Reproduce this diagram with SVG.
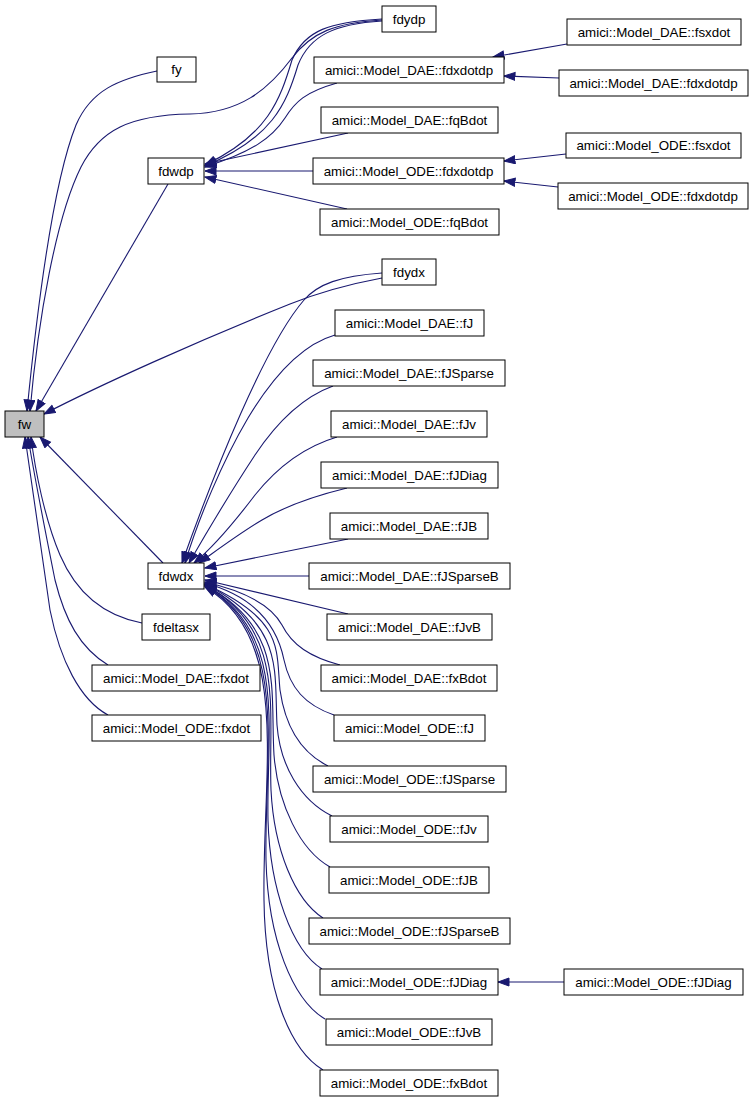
<svg xmlns="http://www.w3.org/2000/svg" width="755" height="1102" viewBox="0 0 755 1102">
<style>
.n rect{fill:#fff;stroke:#000;stroke-width:1}
.n text{font-family:"Liberation Sans",Arial,sans-serif;font-size:13.33px;text-anchor:middle;fill:#000}
#fw rect{fill:#bfbfbf}
.e path{fill:none;stroke:#191970;stroke-width:1.1;marker-end:url(#ah)}
</style>
<defs>
<marker id="ah" markerUnits="userSpaceOnUse" markerWidth="13" markerHeight="10" refX="11.5" refY="4.5" orient="auto">
<path d="M0.5,0.5 L11.5,4.5 L0.5,8.5 z" fill="#191970" stroke="#191970" stroke-width="1"/>
</marker>
</defs>
<rect width="755" height="1102" fill="#fff"/>
<g id="edges" class="e">
<path d="M157,71 C119,79 91,90 76,125 C52,185 36,320 27,411"/>
<path d="M382,20 C335,23 312,32 292,58 C268,90 240,113 190,114 C130,115 100,130 81,167 C56,217 38,320 30,411"/>
<path d="M168,184 L36,411"/>
<path d="M382,278 C350,284 320,292 290,304 C200,340 100,385 44,414"/>
<path d="M163,563 L40,437"/>
<path d="M142,623 C100,615 75,590 60,555 C45,520 35,470 31,437"/>
<path d="M108,665 C80,648 65,620 55,580 C45,530 35,480 28,437"/>
<path d="M108,715 C80,700 60,660 50,610 C40,540 31,480 25,437"/>
<path d="M382,19 C330,22 305,30 292,60 C280,100 268,135 205,165"/>
<path d="M382,21 C335,24 310,35 298,65 C286,105 272,138 205,166"/>
<path d="M337,83 C305,92 295,102 285,118 C272,138 252,152 205,167"/>
<path d="M348,133 L205,164"/>
<path d="M313,171 L205,171"/>
<path d="M347,209 L205,177"/>
<path d="M567,44 L493,57"/>
<path d="M559,78 L504,76"/>
<path d="M566,154 L504,161"/>
<path d="M558,187 L504,181"/>
<path d="M382,273 C340,276 318,284 304,300 C265,345 215,470 182,563"/>
<path d="M335,335 C300,345 272,378 248,418 C222,462 198,520 185,563"/>
<path d="M333,386 C300,398 275,425 255,455 C232,490 208,530 189,563"/>
<path d="M337,437 C300,448 275,470 255,495 C236,520 216,545 194,563"/>
<path d="M347,488 C310,497 282,508 262,520 C240,533 220,548 199,563"/>
<path d="M348,539 L205,568"/>
<path d="M309,576 L205,576"/>
<path d="M348,614 L205,580"/>
<path d="M340,665 C310,657 292,645 282,625 C270,603 240,590 205,582"/>
<path d="M334,715 C305,705 290,688 284,660 C278,630 260,598 205,583"/>
<path d="M328,766 C300,752 285,725 280,690 C276,650 285,620 205,584"/>
<path d="M332,816 C300,800 280,765 277,725 C274,670 285,625 205,584"/>
<path d="M330,867 C300,850 278,805 274,755 C270,690 285,628 205,585"/>
<path d="M323,918 C295,900 274,850 271,790 C268,710 287,630 205,585"/>
<path d="M322,969 C292,950 270,890 268,820 C266,730 288,632 205,586"/>
<path d="M325,1019 C293,1000 268,940 266,860 C264,750 290,635 205,586"/>
<path d="M323,1070 C290,1050 265,990 264,900 C262,770 292,638 205,587"/>
<path d="M564,982 L498,982"/>
</g>
<g id="fw" class="n"><rect x="5" y="411" width="39" height="26"/><text x="24.5" y="428.5">fw</text></g>
<g id="fy" class="n"><rect x="157" y="57" width="39" height="25"/><text x="176.5" y="74">fy</text></g>
<g id="fdwdp" class="n"><rect x="148" y="158" width="56" height="26"/><text x="176" y="175.5">fdwdp</text></g>
<g id="fdydp" class="n"><rect x="382" y="6" width="54" height="26"/><text x="409" y="23.5">fdydp</text></g>
<g id="dae_fsxdot" class="n"><rect x="567" y="19" width="174" height="26"/><text x="654" y="36.5">amici::Model_DAE::fsxdot</text></g>
<g id="dae_fdxdotdp" class="n"><rect x="314" y="57" width="190" height="26"/><text x="409" y="74.5">amici::Model_DAE::fdxdotdp</text></g>
<g id="dae_fdxdotdp2" class="n"><rect x="559" y="70" width="189" height="26"/><text x="653.5" y="87.5">amici::Model_DAE::fdxdotdp</text></g>
<g id="dae_fqBdot" class="n"><rect x="321" y="107" width="177" height="26"/><text x="409.5" y="124.5">amici::Model_DAE::fqBdot</text></g>
<g id="ode_fsxdot" class="n"><rect x="566" y="133" width="175" height="25"/><text x="653.5" y="150">amici::Model_ODE::fsxdot</text></g>
<g id="ode_fdxdotdp" class="n"><rect x="313" y="158" width="191" height="26"/><text x="408.5" y="175.5">amici::Model_ODE::fdxdotdp</text></g>
<g id="ode_fdxdotdp2" class="n"><rect x="558" y="183" width="190" height="26"/><text x="653" y="200.5">amici::Model_ODE::fdxdotdp</text></g>
<g id="ode_fqBdot" class="n"><rect x="320" y="209" width="179" height="26"/><text x="409.5" y="226.5">amici::Model_ODE::fqBdot</text></g>
<g id="fdydx" class="n"><rect x="382" y="259" width="54" height="26"/><text x="409" y="276.5">fdydx</text></g>
<g id="dae_fJ" class="n"><rect x="335" y="310" width="149" height="26"/><text x="409.5" y="327.5">amici::Model_DAE::fJ</text></g>
<g id="dae_fJSparse" class="n"><rect x="313" y="360" width="192" height="26"/><text x="409" y="377.5">amici::Model_DAE::fJSparse</text></g>
<g id="dae_fJv" class="n"><rect x="331" y="411" width="156" height="26"/><text x="409" y="428.5">amici::Model_DAE::fJv</text></g>
<g id="dae_fJDiag" class="n"><rect x="321" y="462" width="177" height="26"/><text x="409.5" y="479.5">amici::Model_DAE::fJDiag</text></g>
<g id="dae_fJB" class="n"><rect x="330" y="513" width="158" height="26"/><text x="409" y="530.5">amici::Model_DAE::fJB</text></g>
<g id="dae_fJSparseB" class="n"><rect x="309" y="563" width="201" height="26"/><text x="409.5" y="580.5">amici::Model_DAE::fJSparseB</text></g>
<g id="fdwdx" class="n"><rect x="148" y="563" width="56" height="26"/><text x="176" y="580.5">fdwdx</text></g>
<g id="fdeltasx" class="n"><rect x="142" y="614" width="68" height="26"/><text x="176" y="631.5">fdeltasx</text></g>
<g id="dae_fxdot" class="n"><rect x="92" y="665" width="168" height="26"/><text x="176" y="682.5">amici::Model_DAE::fxdot</text></g>
<g id="ode_fxdot" class="n"><rect x="92" y="715" width="169" height="26"/><text x="176.5" y="732.5">amici::Model_ODE::fxdot</text></g>
<g id="dae_fJvB" class="n"><rect x="327" y="614" width="165" height="26"/><text x="409.5" y="631.5">amici::Model_DAE::fJvB</text></g>
<g id="dae_fxBdot" class="n"><rect x="321" y="665" width="176" height="26"/><text x="409" y="682.5">amici::Model_DAE::fxBdot</text></g>
<g id="ode_fJ" class="n"><rect x="334" y="715" width="151" height="26"/><text x="409.5" y="732.5">amici::Model_ODE::fJ</text></g>
<g id="ode_fJSparse" class="n"><rect x="313" y="766" width="193" height="26"/><text x="409.5" y="783.5">amici::Model_ODE::fJSparse</text></g>
<g id="ode_fJv" class="n"><rect x="330" y="816" width="158" height="26"/><text x="409" y="833.5">amici::Model_ODE::fJv</text></g>
<g id="ode_fJB" class="n"><rect x="329" y="867" width="160" height="26"/><text x="409" y="884.5">amici::Model_ODE::fJB</text></g>
<g id="ode_fJSparseB" class="n"><rect x="309" y="918" width="201" height="26"/><text x="409.5" y="935.5">amici::Model_ODE::fJSparseB</text></g>
<g id="ode_fJDiag" class="n"><rect x="320" y="969" width="178" height="26"/><text x="409" y="986.5">amici::Model_ODE::fJDiag</text></g>
<g id="ode_fJDiag2" class="n"><rect x="564" y="969" width="179" height="26"/><text x="653.5" y="986.5">amici::Model_ODE::fJDiag</text></g>
<g id="ode_fJvB" class="n"><rect x="326" y="1019" width="166" height="26"/><text x="409" y="1036.5">amici::Model_ODE::fJvB</text></g>
<g id="ode_fxBdot" class="n"><rect x="320" y="1070" width="178" height="26"/><text x="409" y="1087.5">amici::Model_ODE::fxBdot</text></g>
</svg>
